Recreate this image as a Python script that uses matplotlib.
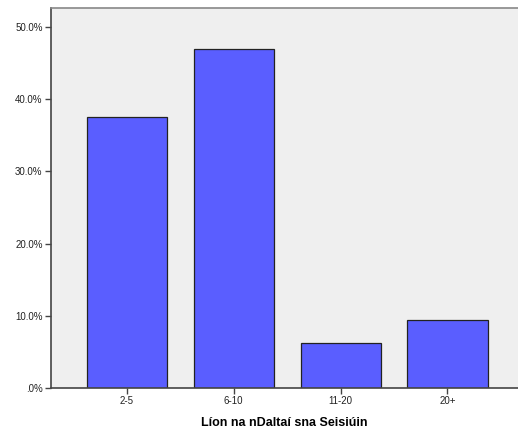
import matplotlib
matplotlib.use("Agg")
import matplotlib.pyplot as plt
from matplotlib.ticker import FuncFormatter

categories = ["2-5", "6-10", "11-20", "20+"]
percents = [37.5, 46.9, 6.25, 9.4]
yticks = [0, 10, 20, 30, 40, 50]
xlabel = "Líon na nDaltaí sna Seisiúin"

plt.rcParams['font.family'] = ['Liberation Sans', 'DejaVu Sans']

fig = plt.figure(figsize=(5.18, 4.32), dpi=100)
ax = fig.add_axes([51/518, 44/432, 467/518, 380/432])
ax.set_facecolor('#efefef')
x = list(range(len(categories)))
ax.bar(x, percents, width=0.75, color='#5a5eff', edgecolor='#222222', linewidth=0.9, zorder=2)
ax.set_xlim(-0.71, 3.66)
ax.set_ylim(0, 52.6)
ax.set_yticks(yticks)
ax.yaxis.set_major_formatter(FuncFormatter(lambda v, p: ".0%" if v == 0 else f"{v:.1f}%"))
ax.set_xticks(x)
ax.set_xticklabels(categories)
ax.tick_params(axis='both', labelsize=7, length=4, width=1, color='#444444', labelcolor='#222222', pad=2)
ax.set_xlabel(xlabel, fontsize=9, fontweight='bold', labelpad=8)
for s in ['left', 'bottom']:
    ax.spines[s].set_color('#444444')
    ax.spines[s].set_linewidth(1.2)
ax.spines['top'].set_color('#888888')
ax.spines['top'].set_linewidth(1.2)
ax.spines['right'].set_visible(False)
fig.savefig("out.png", dpi=100)
